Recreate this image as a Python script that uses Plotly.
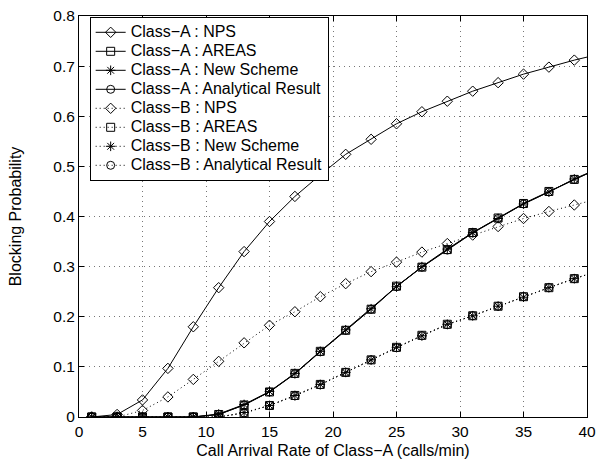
import plotly.graph_objects as go

x = [1, 3, 5, 7, 9, 11, 13, 15, 17, 19, 21, 23, 25, 27, 29, 31, 33, 35, 37, 39, 41]

a_nps = [0.0, 0.005, 0.034, 0.097, 0.18, 0.258, 0.33, 0.39, 0.44, 0.483, 0.524, 0.554,
         0.585, 0.609, 0.63, 0.65, 0.667, 0.684, 0.698, 0.712, 0.724]
a_areas = [0.0, 0.0, 0.0, 0.0, 0.0, 0.005, 0.024, 0.05, 0.087, 0.131, 0.173, 0.215,
           0.261, 0.299, 0.334, 0.368, 0.397, 0.426, 0.45, 0.474, 0.497]
a_new = [0.0, 0.0, 0.0, 0.0, 0.0, 0.006, 0.025, 0.051, 0.087, 0.131, 0.174, 0.216,
         0.26, 0.3, 0.335, 0.368, 0.396, 0.425, 0.449, 0.475, 0.497]
a_anal = [0.0, 0.0, 0.0, 0.0, 0.0, 0.005, 0.024, 0.05, 0.086, 0.13, 0.173, 0.215,
          0.26, 0.299, 0.333, 0.367, 0.396, 0.425, 0.449, 0.474, 0.496]
b_nps = [0.0, 0.0, 0.013, 0.04, 0.075, 0.111, 0.148, 0.183, 0.21, 0.24, 0.266, 0.29,
         0.309, 0.329, 0.346, 0.363, 0.38, 0.396, 0.41, 0.423, 0.436]
b_areas = [0.0, 0.0, 0.0, 0.0, 0.0, 0.0, 0.008, 0.023, 0.043, 0.065, 0.089, 0.114,
           0.139, 0.163, 0.185, 0.202, 0.221, 0.24, 0.258, 0.276, 0.292]
b_new = [0.0, 0.0, 0.0, 0.0, 0.0, 0.0, 0.009, 0.023, 0.043, 0.065, 0.089, 0.114,
         0.139, 0.162, 0.185, 0.202, 0.221, 0.239, 0.258, 0.276, 0.292]
b_anal = [0.0, 0.0, 0.0, 0.0, 0.0, 0.0, 0.008, 0.023, 0.042, 0.064, 0.089, 0.114,
          0.138, 0.162, 0.184, 0.202, 0.221, 0.24, 0.258, 0.276, 0.292]

series = [
    ("Class\u2212A : NPS", a_nps, "diamond-open", "solid"),
    ("Class\u2212A : AREAS", a_areas, "square-open", "solid"),
    ("Class\u2212A : New Scheme", a_new, "asterisk-open", "solid"),
    ("Class\u2212A : Analytical Result", a_anal, "circle-open", "solid"),
    ("Class\u2212B : NPS", b_nps, "diamond-open", "1px,3px"),
    ("Class\u2212B : AREAS", b_areas, "square-open", "1px,3px"),
    ("Class\u2212B : New Scheme", b_new, "asterisk-open", "1px,3px"),
    ("Class\u2212B : Analytical Result", b_anal, "circle-open", "1px,3px"),
]

FAM = "Liberation Sans, Arial, Helvetica, sans-serif"

fig = go.Figure()
for name, y, sym, dash in series:
    fig.add_trace(go.Scatter(
        x=x, y=y, mode="lines+markers",
        name='<span style="font-size:16px">' + name + '</span>',
        line=dict(color="black", width=1, dash=dash),
        marker=dict(symbol=sym, size=8, color="black", line=dict(color="black", width=1)),
        cliponaxis=True,
    ))

font = dict(family=FAM, size=16, color="black")
tickfont = dict(family=FAM, size=15.5, color="black")

fig.update_layout(
    width=603, height=465,
    margin=dict(l=79, r=7, t=11, b=48),
    paper_bgcolor="white", plot_bgcolor="white",
    font=font,
    showlegend=True,
    legend=dict(
        x=0.021, y=0.998, xanchor="left", yanchor="top",
        bgcolor="white", bordercolor="black", borderwidth=1,
        font=dict(family=FAM, size=12.3, color="black"),
        tracegroupgap=0, itemwidth=30,
    ),
)
fig.update_xaxes(
    range=[0, 40], dtick=5, tick0=0,
    showline=True, linecolor="black", linewidth=1, mirror="ticks",
    ticks="inside", ticklen=5, tickcolor="black",
    showgrid=True, gridcolor="#777777", griddash="1px,4px", gridwidth=1,
    zeroline=False, tickfont=tickfont, ticklabeloverflow="allow",
    title=dict(text="Call Arrival Rate of Class\u2212A (calls/min)", standoff=6, font=font),
)
fig.update_yaxes(
    range=[0, 0.8], dtick=0.1, tick0=0,
    showline=True, linecolor="black", linewidth=1, mirror="ticks",
    ticks="inside", ticklen=5, tickcolor="black",
    showgrid=True, gridcolor="#777777", griddash="1px,4px", gridwidth=1,
    zeroline=False, tickfont=tickfont, ticklabeloverflow="allow",
    title=dict(text="Blocking Probability", standoff=27, font=font),
)

fig.write_html("out.html")
